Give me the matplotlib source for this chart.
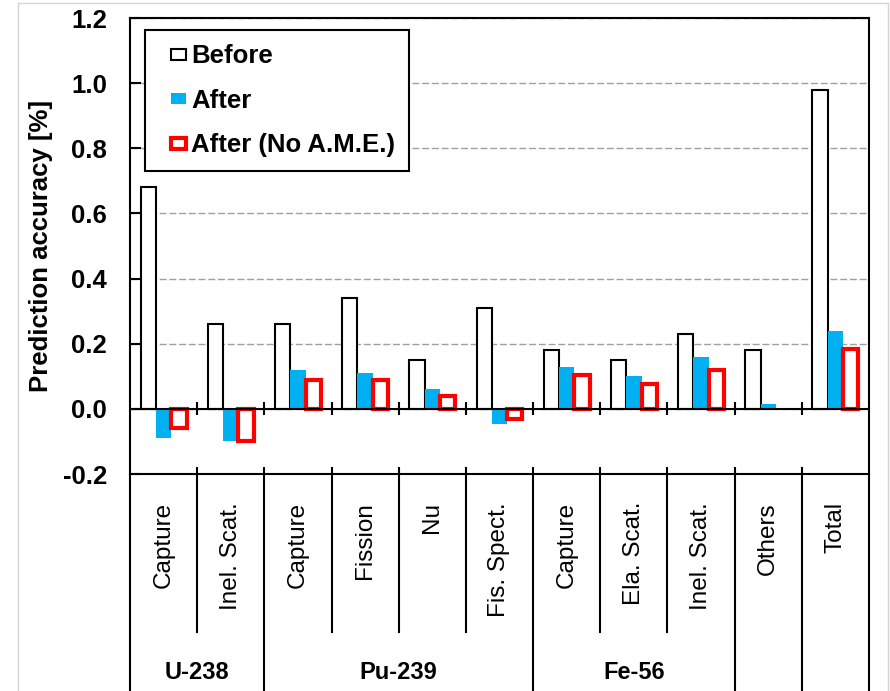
import numpy as np
import matplotlib
matplotlib.use('Agg')
import matplotlib.pyplot as plt
from matplotlib.lines import Line2D
from matplotlib.patches import Rectangle
from matplotlib.legend_handler import HandlerPatch

plt.rcParams['font.family'] = ['Liberation Sans', 'DejaVu Sans']

categories = ['Capture', 'Inel. Scat.', 'Capture', 'Fission', 'Nu', 'Fis. Spect.',
              'Capture', 'Ela. Scat.', 'Inel. Scat.', 'Others', 'Total']
groups = ['U-238', 'Pu-239', 'Fe-56', '', '']
group_sizes = [2, 4, 3, 1, 1]
before = [0.68, 0.26, 0.26, 0.34, 0.15, 0.31, 0.18, 0.15, 0.23, 0.18, 0.98]
after = [-0.09, -0.10, 0.12, 0.11, 0.06, -0.045, 0.13, 0.10, 0.16, 0.014, 0.24]
after_noame = [-0.06, -0.10, 0.09, 0.09, 0.04, -0.03, 0.105, 0.075, 0.12, np.nan, 0.185]
series_labels = ['Before', 'After', 'After (No A.M.E.)']
yticks = [-0.2, 0.0, 0.2, 0.4, 0.6, 0.8, 1.0, 1.2]
ylabel = 'Prediction accuracy [%]'

W, H = 890, 691
fig = plt.figure(figsize=(W / 100, H / 100), dpi=100)
ax = fig.add_axes([130 / W, 1 - 474 / H, 739 / W, 456 / H])

n = len(categories)
x = np.arange(n)
w = 0.228
b1 = ax.bar(x - w, before, w, facecolor='white', edgecolor='black', linewidth=1.5,
            label=series_labels[0], zorder=3)
b2 = ax.bar(x, after, w, facecolor='#00B0F0', edgecolor='none', linewidth=0,
            label=series_labels[1], zorder=3)
b3 = ax.bar(x + w, after_noame, w, facecolor='white', edgecolor='#FF0000', linewidth=3,
            label=series_labels[2], zorder=4)

ax.set_xlim(-0.5, n - 0.5)
ax.set_ylim(yticks[0], yticks[-1])
ax.set_yticks(yticks)
ax.set_yticklabels([f'{t:.1f}' for t in yticks], fontsize=18.5, fontweight='bold')
ax.tick_params(axis='y', direction='in', length=8, width=1.5, pad=16.5)

bounds = np.arange(n + 1) - 0.5
ax.set_xticks(bounds[1:-1])
ax.set_xticklabels([])
ax.tick_params(axis='x', direction='in', length=5, width=1.5)

for s in ax.spines.values():
    s.set_linewidth(1.5)
    s.set_color('black')

ax.grid(axis='y', color='#a0a0a0', linestyle=(0, (5, 2)), linewidth=1.0, zorder=0)
ax.set_axisbelow(True)

ax.axhline(0, color='black', linewidth=1.5, zorder=5)
ax.vlines(bounds[1:-1], -0.02, 0.02, color='black', linewidth=1.5, zorder=5)

ax.set_ylabel(ylabel, fontsize=18.5, fontweight='bold')
ax.yaxis.set_label_coords(-0.104, 0.5)

# category table below axis
trans = ax.get_xaxis_transform()
group_edges = np.concatenate([[0], np.cumsum(group_sizes)])
group_bounds = set(bounds[group_edges])
for b in bounds:
    ybot = -0.6 if b in group_bounds else -0.3465
    ax.add_line(Line2D([b, b], [0, ybot], transform=trans, color='black',
                       linewidth=1.5, clip_on=False))
for i, c in enumerate(categories):
    ax.text(x[i], -0.0614, c, transform=trans, rotation=90, ha='center', va='top',
            fontsize=17.5)
for g, a, b in zip(groups, group_edges[:-1], group_edges[1:]):
    if g:
        ax.text((bounds[a] + bounds[b]) / 2, -0.436, g, transform=trans,
                ha='center', va='center', fontsize=17, fontweight='bold')


def right_box(legend, orig_handle, xdescent, ydescent, width, height, fontsize):
    bw = 15.0 * 72 / 100
    bh = 11.0 * 72 / 100
    return Rectangle((-xdescent + width - bw, -ydescent + (height - bh) / 2), bw, bh)


handler = HandlerPatch(patch_func=right_box)
handles = [b1.patches[0], b2.patches[0], b3.patches[0]]
leg = ax.legend(handles, series_labels, loc='upper left',
                bbox_to_anchor=(0.0203, 0.9737), borderaxespad=0,
                fancybox=False, edgecolor='black', framealpha=1,
                prop={'size': 18.5, 'weight': 'bold'},
                handler_map={h: handler for h in handles},
                handlelength=1.05, handleheight=0.7, handletextpad=0.2,
                labelspacing=0.8, borderpad=0.55)
leg.get_frame().set_linewidth(1.5)
leg.set_zorder(10)

# faint outer frame
for xs, ys in [([18, 888], [H - 3, H - 3]), ([18, 18], [0, H - 3]), ([888, 888], [0, H - 3])]:
    fig.add_artist(Line2D(np.array(xs) / W, np.array(ys) / H, transform=fig.transFigure,
                          color='#d4d4d4', linewidth=1.0))

fig.savefig('out.png', dpi=100)
